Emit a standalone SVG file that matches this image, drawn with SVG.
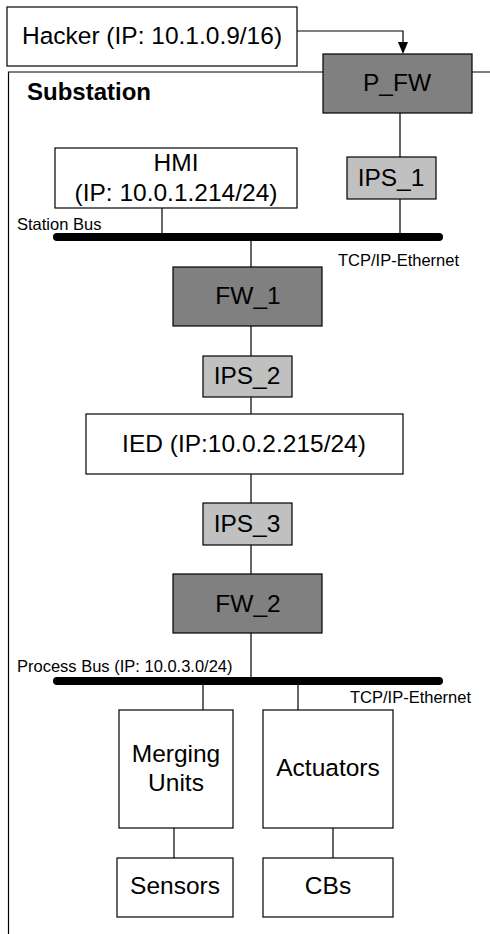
<svg xmlns="http://www.w3.org/2000/svg" width="490" height="934" viewBox="0 0 490 934">
<style>
.box{fill:#fff;stroke:#000;stroke-width:1.2}
.fw{fill:#808080;stroke:#000;stroke-width:1.2}
.ips{fill:#c0c0c0;stroke:#000;stroke-width:1.2}
.lbl{font-family:"Liberation Sans",Arial,sans-serif;font-size:24.5px;fill:#000;text-anchor:middle}
.sm{font-family:"Liberation Sans",Arial,sans-serif;font-size:16.5px;fill:#000}
.ln{stroke:#000;stroke-width:1.2;fill:none}
.bus{stroke:#000;stroke-width:8;stroke-linecap:round}
</style>
<defs>
<marker id="arr" markerWidth="10" markerHeight="12" refX="5" refY="12" orient="auto" markerUnits="userSpaceOnUse">
<path d="M0,0 L10,0 L5,12 Z" fill="#000" transform="rotate(-90 5 6)"/>
</marker>
</defs>
<rect width="490" height="934" fill="#fff"/>
<g id="substation-frame">
<path class="ln" d="M8.5,934 V72 H490" stroke-width="1.5"/>
<text x="27" y="100" style="font-family:'Liberation Sans',Arial,sans-serif;font-size:24px;font-weight:bold">Substation</text>
</g>
<g id="connectors">
<path class="ln" d="M297,31 H403 V44"/>
<path d="M398,42 L408,42 L403,54 Z" fill="#000"/>
<path class="ln" d="M400,113 V157 M400,199 V237"/>
<path class="ln" d="M162,208 V237"/>
<path class="ln" d="M251,237 V267 M251,326 V356 M251,397 V414 M251,474 V503 M251,545 V574 M251,633 V681"/>
<path class="ln" d="M203,681 V710 M298,681 V710"/>
<path class="ln" d="M174,828 V858 M333,828 V858"/>
</g>
<g id="station-bus">
<line class="bus" x1="57" y1="237" x2="439" y2="237"/>
<text class="sm" x="17" y="230">Station Bus</text>
<text class="sm" x="338" y="266">TCP/IP-Ethernet</text>
</g>
<g id="process-bus">
<line class="bus" x1="57" y1="681" x2="439" y2="681"/>
<text class="sm" x="17" y="672">Process Bus (IP: 10.0.3.0/24)</text>
<text class="sm" x="350" y="703">TCP/IP-Ethernet</text>
</g>
<g id="hacker">
<rect class="box" x="7" y="7" width="290" height="59"/>
<text class="lbl" x="152" y="44">Hacker (IP: 10.1.0.9/16)</text>
</g>
<g id="p_fw">
<rect class="fw" x="323" y="54" width="149" height="59"/>
<text class="lbl" x="397" y="91">P_FW</text>
</g>
<g id="hmi">
<rect class="box" x="55" y="148" width="242" height="60"/>
<text class="lbl" x="176" y="171">HMI</text>
<text class="lbl" x="176" y="201">(IP: 10.0.1.214/24)</text>
</g>
<g id="ips_1">
<rect class="ips" x="347" y="157" width="89" height="42"/>
<text class="lbl" x="391" y="186">IPS_1</text>
</g>
<g id="fw_1">
<rect class="fw" x="173" y="267" width="149" height="59"/>
<text class="lbl" x="248" y="304">FW_1</text>
</g>
<g id="ips_2">
<rect class="ips" x="203" y="356" width="89" height="41"/>
<text class="lbl" x="247" y="384">IPS_2</text>
</g>
<g id="ied">
<rect class="box" x="86" y="414" width="317" height="60"/>
<text class="lbl" x="244" y="452">IED (IP:10.0.2.215/24)</text>
</g>
<g id="ips_3">
<rect class="ips" x="203" y="503" width="89" height="42"/>
<text class="lbl" x="247" y="532">IPS_3</text>
</g>
<g id="fw_2">
<rect class="fw" x="173" y="574" width="149" height="59"/>
<text class="lbl" x="248" y="612">FW_2</text>
</g>
<g id="merging-units">
<rect class="box" x="119" y="710" width="114" height="118"/>
<text class="lbl" x="176" y="762">Merging</text>
<text class="lbl" x="176" y="791">Units</text>
</g>
<g id="actuators">
<rect class="box" x="263" y="710" width="130" height="118"/>
<text class="lbl" x="328" y="776">Actuators</text>
</g>
<g id="sensors">
<rect class="box" x="117" y="858" width="116" height="59"/>
<text class="lbl" x="175" y="894">Sensors</text>
</g>
<g id="cbs">
<rect class="box" x="263" y="858" width="130" height="59"/>
<text class="lbl" x="328" y="894">CBs</text>
</g>
</svg>
